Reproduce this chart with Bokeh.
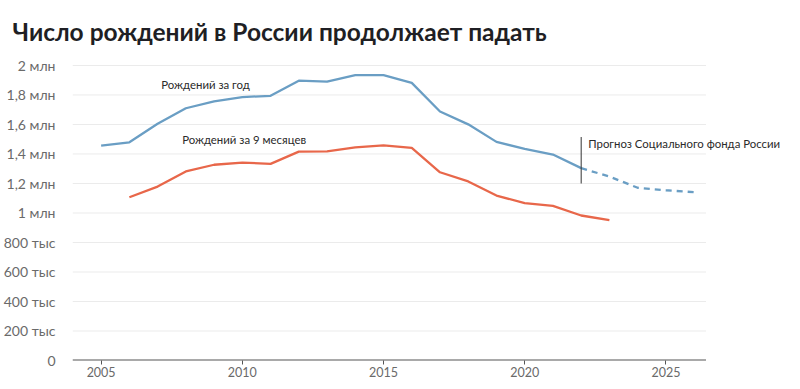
from bokeh.plotting import figure
from bokeh.models import FixedTicker, Label, Range1d, ColumnDataSource
from bokeh.embed import file_html
from bokeh.resources import INLINE

# Data (millions of births)
years_annual = [2005, 2006, 2007, 2008, 2009, 2010, 2011, 2012, 2013, 2014, 2015,
                2016, 2017, 2018, 2019, 2020, 2021, 2022]
births_annual = [1.457, 1.479, 1.605, 1.710, 1.757, 1.786, 1.794, 1.897, 1.890, 1.935,
                 1.934, 1.882, 1.688, 1.601, 1.482, 1.435, 1.396, 1.304]

years_forecast = [2022, 2023, 2024, 2025, 2026]
births_forecast = [1.304, 1.247, 1.171, 1.154, 1.141]

years_9m = [2006, 2007, 2008, 2009, 2010, 2011, 2012, 2013, 2014, 2015, 2016,
            2017, 2018, 2019, 2020, 2021, 2022, 2023]
births_9m = [1.107, 1.179, 1.282, 1.327, 1.342, 1.333, 1.416, 1.418, 1.445, 1.459,
             1.441, 1.276, 1.214, 1.118, 1.067, 1.048, 0.983, 0.951]

y_ticks = [0, 0.2, 0.4, 0.6, 0.8, 1.0, 1.2, 1.4, 1.6, 1.8, 2.0]
y_tick_labels = ["0", "200 тыс", "400 тыс", "600 тыс", "800 тыс", "1 млн",
                 "1,2 млн", "1,4 млн", "1,6 млн", "1,8 млн", "2 млн"]
x_ticks = [2005, 2010, 2015, 2020, 2025]

title_text = "Число рождений в России продолжает падать"
label_annual = "Рождений за год"
label_9m = "Рождений за 9 месяцев"
label_forecast = "Прогноз Социального фонда России"
forecast_start = 2022

X_START, X_END, X_GRID_END = 2003.986, 2029.2, 2026.42

FONT = "Lato"
BLUE = "#6a9ec4"
RED = "#e8674a"

p = figure(width=784, height=380, output_backend="svg", toolbar_location=None,
           x_range=Range1d(X_START, X_END), y_range=Range1d(0, 2.0405),
           min_border_left=72, min_border_right=0, min_border_top=58,
           min_border_bottom=20)

p.title.text = title_text
p.title.align = "left"
p.title.offset = -60
p.title.text_font = FONT
p.title.text_font_size = "24.5px"
p.title.text_font_style = "bold"
p.title.text_color = "#1f1f24"
p.title.standoff = 28

p.outline_line_color = None
p.background_fill_color = "white"
p.border_fill_color = "white"

p.xgrid.grid_line_color = None
p.ygrid.grid_line_color = None

# horizontal grid lines, ending where the reference grid ends
grid = ColumnDataSource(dict(x0=[X_START] * (len(y_ticks) - 1), x1=[X_GRID_END] * (len(y_ticks) - 1),
                             y=y_ticks[1:]))
p.segment(x0="x0", y0="y", x1="x1", y1="y", source=grid, line_color="#ebebeb", line_width=1)

p.yaxis.ticker = FixedTicker(ticks=y_ticks)
p.yaxis.major_label_overrides = {t: l for t, l in zip(y_ticks, y_tick_labels)}
p.yaxis.axis_line_color = None
p.yaxis.major_tick_line_color = None
p.yaxis.minor_tick_line_color = None
p.yaxis.major_label_standoff = 11
p.yaxis.major_label_text_font = FONT
p.yaxis.major_label_text_font_size = "14px"
p.yaxis.major_label_text_color = "#6a6a6a"

p.xaxis.ticker = FixedTicker(ticks=x_ticks)
p.xaxis.axis_line_color = None
p.xaxis.major_tick_line_color = "#555555"
p.xaxis.major_tick_out = 4
p.xaxis.major_tick_in = 0
p.xaxis.minor_tick_line_color = None
p.xaxis.major_label_standoff = 2
p.xaxis.major_label_text_font = FONT
p.xaxis.major_label_text_font_size = "12.5px"
p.xaxis.major_label_text_color = "#6a6a6a"

# baseline (x axis line) at zero, ending with the grid
base = ColumnDataSource(dict(x0=[X_START], x1=[X_GRID_END], y=[0]))
p.segment(x0="x0", y0="y", x1="x1", y1="y", source=base, line_color="#555555", line_width=1.8)

p.line(years_annual, births_annual, line_color=BLUE, line_width=2.3)
p.line(years_forecast, births_forecast, line_color=BLUE, line_width=2.3, line_dash="6 5")
p.line(years_9m, births_9m, line_color=RED, line_width=2.3)

seg = ColumnDataSource(dict(x0=[forecast_start], y0=[1.2], x1=[forecast_start], y1=[1.515]))
p.segment(x0="x0", y0="y0", x1="x1", y1="y1", source=seg, line_color="#333333", line_width=1)

for x, y, t in [(2007.13, 1.872, label_annual), (2007.87, 1.495, label_9m),
                (2022.25, 1.468, label_forecast)]:
    p.add_layout(Label(x=x, y=y, text=t, text_font=FONT, text_font_size="11.4px",
                       text_color="#2a2a2a", text_baseline="middle", text_align="left"))

open("out.html", "w").write(file_html(p, INLINE))
